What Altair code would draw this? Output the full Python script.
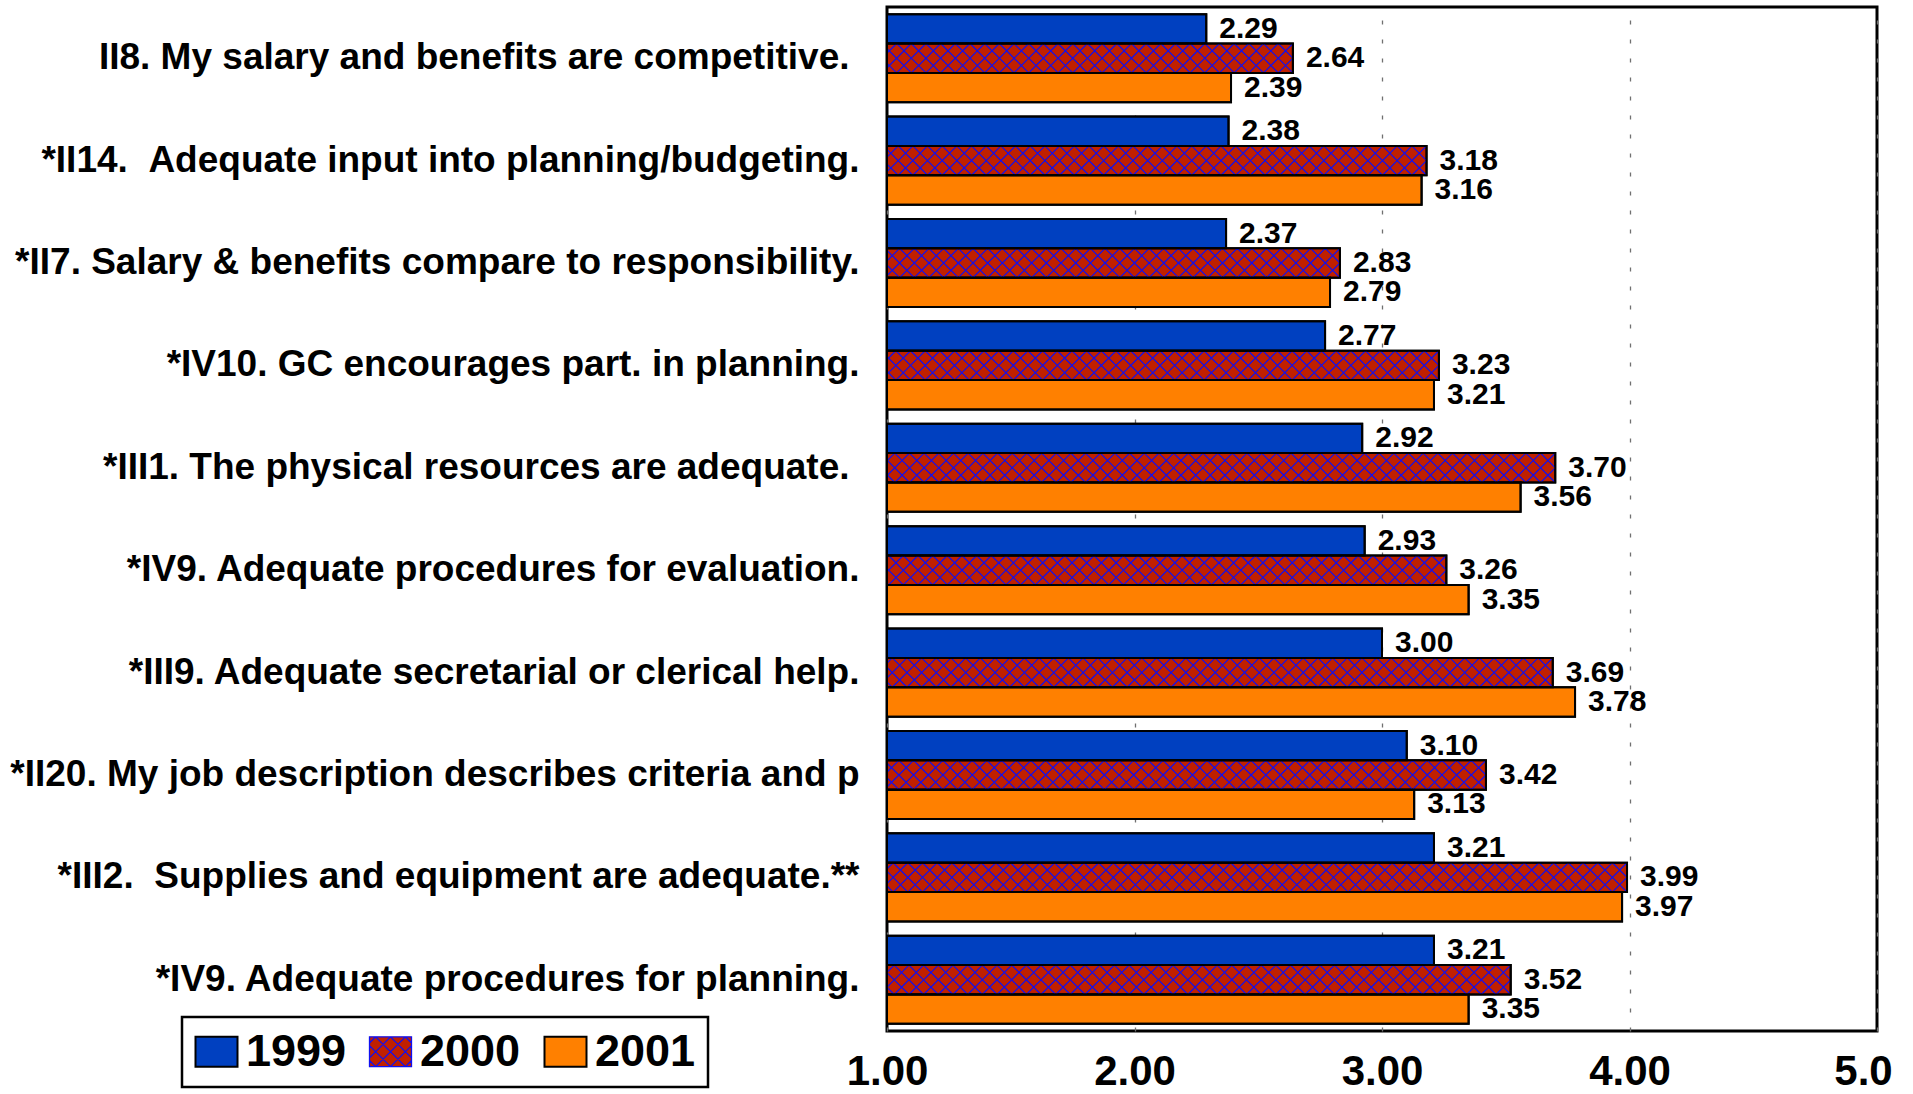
import altair as alt
import pandas as pd

categories = [
    "II8. My salary and benefits are competitive.",
    "*II14. \u00a0Adequate input into planning/budgeting.",
    "*II7. Salary & benefits compare to responsibility.",
    "*IV10. GC encourages part. in planning.",
    "*III1. The physical resources are adequate.",
    "*IV9. Adequate procedures for evaluation.",
    "*III9. Adequate secretarial or clerical help.",
    "*II20. My job description describes criteria and p",
    "*III2. \u00a0Supplies and equipment are adequate.**",
    "*IV9. Adequate procedures for planning.",
]
years = ["1999", "2000", "2001"]
v1999 = [2.29, 2.38, 2.37, 2.77, 2.92, 2.93, 3.00, 3.10, 3.21, 3.21]
v2000 = [2.64, 3.18, 2.83, 3.23, 3.70, 3.26, 3.69, 3.42, 3.99, 3.52]
v2001 = [2.39, 3.16, 2.79, 3.21, 3.56, 3.35, 3.78, 3.13, 3.97, 3.35]
x_ticks = [1, 2, 3, 4, 5]

colors = ["#0040C0", "#C02000", "#FF8000"]
HATCH = "#1010F0"
FONT = "Liberation Sans"

# layout
W, H = 990, 1024
LEFT, TOP = 887, 7
P_IN, P_OUT = 0.14, 0.07
step = H / (len(categories) - P_IN + 2 * P_OUT)
sub = step * (1 - P_IN) / 3.0          # height of one bar in px
tile_units = sub / (W / 4.0)            # hatch tile width in data units

rows = []
for vals, yr in zip([v1999, v2000, v2001], years):
    for c, v in zip(categories, vals):
        rows.append({"cat": c, "year": yr, "value": v})
df = pd.DataFrame(rows)

# hatch tiles for the 2000 bars, laid from the bar's end back to the axis
hrows = []
for c, v in zip(categories, v2000):
    i = 0
    while v - tile_units * i > 1.0:
        hrows.append({"cat": c, "year": "2000", "xc": v - tile_units * (i + 0.5)})
        i += 1
hdf = pd.DataFrame(hrows)

tile_path = "M-1,-1L1,1M-1,1L1,-1M0,-1L1,0M-1,0L0,1M0,1L1,0M-1,0L0,-1"

# legend swatches: plain rectangle, and rectangle with cross-hatch for 2000
RH = 0.71
legend_rect = f"M-1,-{RH}H1V{RH}H-1Z"
segs = []
for k in range(-6, 7):
    c = k * RH
    a, b = max(-1, -RH - c), min(1, RH - c)
    if b - a > 1e-6:
        segs.append(f"M{a:.3f},{a + c:.3f}L{b:.3f},{b + c:.3f}")
    a, b = max(-1, c - RH), min(1, c + RH)
    if b - a > 1e-6:
        segs.append(f"M{a:.3f},{c - a:.3f}L{b:.3f},{c - b:.3f}")
legend_hatch = legend_rect + "".join(segs)

xscale = alt.Scale(domain=[1, 5], nice=False, zero=False)
yscale = alt.Scale(domain=categories, paddingInner=P_IN, paddingOuter=P_OUT)
yoff = alt.YOffset("year:N", scale=alt.Scale(domain=years, paddingInner=0, paddingOuter=0))

xaxis = alt.Axis(
    values=x_ticks,
    labelExpr="datum.value == 5 ? '5.0' : format(datum.value, '.2f')",
    labelFontSize=42, labelFont=FONT, labelFontWeight="bold", labelColor="black",
    labelPadding=20, labelFlush=False,
    labelOffset={"condition": {"test": "datum.value == 5", "value": -14}, "value": 0},
    ticks=False, domain=False, title=None,
    grid=True, gridColor="#707070", gridDash=[4, 15], gridWidth=1.3,
)
yaxis = alt.Axis(
    labelFontSize=37, labelFont=FONT, labelFontWeight="bold", labelColor="black",
    labelLimit=1000,
    labelPadding={
        "condition": {
            "test": "indexof(datum.value, 'competitive') >= 0 || indexof(datum.value, 'physical') >= 0",
            "value": 38,
        },
        "value": 28,
    },
    ticks=False, domain=False, grid=False, title=None,
)

base = alt.Chart(df)

bars = base.mark_bar(stroke="black", strokeWidth=2).encode(
    x=alt.X("value:Q", scale=xscale, axis=xaxis),
    x2=alt.datum(1),
    y=alt.Y("cat:N", scale=yscale, axis=yaxis, sort=categories),
    yOffset=yoff,
    color=alt.Color(
        "year:N",
        scale=alt.Scale(domain=years, range=colors),
        legend=alt.Legend(
            orient="none", legendX=-705, legendY=1010, direction="horizontal",
            title=None, labelFontSize=45, labelFont=FONT, labelFontWeight="bold",
            labelColor="black",
            symbolType={"expr": f"datum.value == '2000' ? '{legend_hatch}' : '{legend_rect}'"},
            symbolSize=1764,
            symbolStrokeColor={"expr": f"datum.value == '2000' ? '{HATCH}' : 'black'"},
            symbolStrokeWidth={"expr": "datum.value == '2000' ? 1.3 : 2"},
            symbolOpacity=1,
            strokeColor="black", fillColor="white",
            padding=12, columnPadding=19, labelOffset=7,
        ),
    ),
)

hatch = alt.Chart(hdf).mark_point(
    shape=tile_path, size=sub * sub, filled=False, stroke=HATCH,
    strokeWidth=1.2, opacity=1, clip=True,
).encode(
    x=alt.X("xc:Q", scale=xscale),
    y=alt.Y("cat:N", scale=yscale, sort=categories),
    yOffset=yoff,
)

outline = base.mark_bar(fillOpacity=0, stroke="black", strokeWidth=2).encode(
    x=alt.X("value:Q", scale=xscale),
    x2=alt.datum(1),
    y=alt.Y("cat:N", scale=yscale, sort=categories),
    yOffset=yoff,
)

labels = base.mark_text(
    align="left", baseline="middle", dx=13, fontSize=30, font=FONT,
    fontWeight="bold", color="black",
).encode(
    x=alt.X("value:Q", scale=xscale),
    y=alt.Y("cat:N", scale=yscale, sort=categories),
    yOffset=yoff,
    text=alt.Text("value:Q", format=".2f"),
)

chart = alt.layer(bars, hatch, outline, labels).properties(
    width=W, height=H,
    autosize=alt.AutoSizeParams(type="none"),
    padding={"left": LEFT, "top": TOP, "right": 1913 - LEFT - W, "bottom": 1094 - TOP - H},
    background="white",
).configure(
    font=FONT,
).configure_view(
    stroke="black", strokeWidth=3,
).configure_legend(
    strokeWidth=2.5, cornerRadius=0,
)

chart.save("out.html", embed_options={"renderer": "svg", "actions": False})
